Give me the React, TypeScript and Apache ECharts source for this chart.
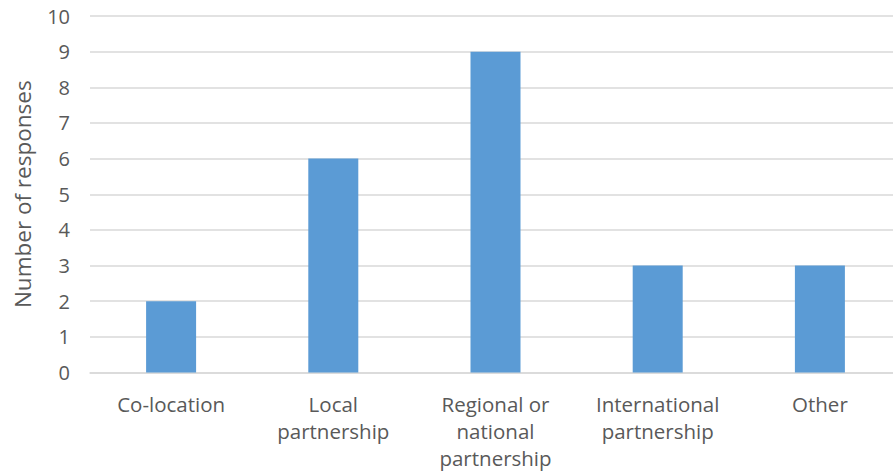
import React, { useEffect, useRef } from "react";
import * as echarts from "echarts";

const categories = ["Co-location", "Local\npartnership", "Regional or\nnational\npartnership", "International\npartnership", "Other"];
const responses = [2, 6, 9, 3, 3];
const yAxisTitle = "Number of responses";

export default function App() {
  const ref = useRef<HTMLDivElement>(null);
  useEffect(() => {
    if (!ref.current) return;
    const chart = echarts.init(ref.current, null, { renderer: "svg" });
    const font = "'Open Sans', 'Noto Sans', sans-serif";
    chart.setOption({
      animation: false,
      backgroundColor: "#ffffff",
      grid: { left: 90, top: 16, right: 2, height: 356.5, containLabel: false },
      xAxis: {
        type: "category",
        data: categories,
        axisLine: { lineStyle: { color: "#d9d9d9", width: 1.5 } },
        axisTick: { show: false },
        axisLabel: { color: "#595959", fontSize: 20.5, fontFamily: font, margin: 18, lineHeight: 27, interval: 0 },
      },
      yAxis: {
        type: "value",
        min: 0,
        max: 10,
        interval: 1,
        name: yAxisTitle,
        nameLocation: "middle",
        nameGap: 56,
        nameTextStyle: { color: "#595959", fontSize: 22.5, fontFamily: font },
        axisLine: { show: false },
        axisTick: { show: false },
        axisLabel: { color: "#595959", fontSize: 20, fontFamily: font, margin: 20 },
        splitLine: { lineStyle: { color: "#d9d9d9", width: 1.5 } },
      },
      series: [
        {
          type: "bar",
          data: responses,
          barWidth: 50,
          itemStyle: { color: "#5b9bd5" },
        },
      ],
    });
    return () => chart.dispose();
  }, []);
  return (
    <div style={{ position: "fixed", left: 0, top: 0, width: 893, height: 473, overflow: "hidden" }}>
      <div ref={ref} style={{ width: 903, height: 473 }} />
    </div>
  );
}
